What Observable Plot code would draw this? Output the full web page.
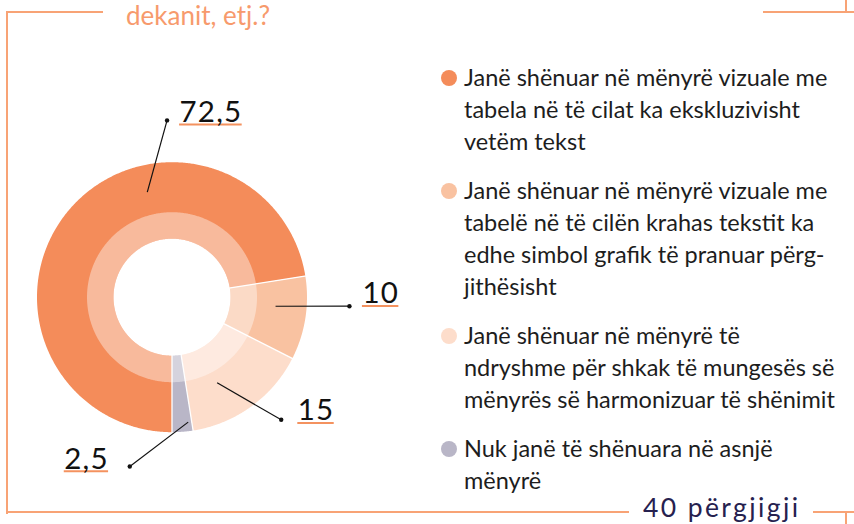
<!DOCTYPE html>
<html>
<head>
<meta charset="utf-8">
<script src="https://cdn.jsdelivr.net/npm/d3@7"></script>
<script src="https://cdn.jsdelivr.net/npm/@observablehq/plot@0.6"></script>
<style>
  html, body { margin: 0; padding: 0; background: #fff; }
  #wrap { position: relative; width: 854px; height: 524px; overflow: hidden; font-family: Lato, sans-serif; }
  .fr { position: absolute; background: #F8A375; }
  #chart { position: absolute; left: 0; top: 0; }
  #chart text { letter-spacing: 1.2px; }
  #title { position: absolute; left: 126px; top: 0px; font-size: 26px; line-height: 31px; color: #F79A6C; white-space: nowrap; }
  #count { position: absolute; left: 643px; top: 494px; font-size: 26.5px; line-height: 27px; color: #26214F; letter-spacing: 2.4px; white-space: nowrap; }
  #legend { position: absolute; left: 441px; top: 61px; display: flex; flex-direction: column; gap: 17px; }
  .item { position: relative; padding-left: 23px; font-size: 23.5px; line-height: 32px; color: #1d1d1d; white-space: pre; }
  .sw { position: absolute; left: 0; top: 9px; width: 16px; height: 16px; border-radius: 50%; }
</style>
</head>
<body>
<div id="wrap">
  <div class="fr" style="left:6px;top:11px;width:97px;height:2px"></div>
  <div class="fr" style="left:6px;top:11px;width:2px;height:503px"></div>
  <div class="fr" style="left:6px;top:511px;width:623px;height:2px"></div>
  <div class="fr" style="left:813px;top:511px;width:41px;height:2px"></div>
  <div class="fr" style="left:845px;top:511px;width:2px;height:13px"></div>
  <div class="fr" style="left:763px;top:11px;width:91px;height:2px"></div>
  <div class="fr" style="left:845px;top:0px;width:2px;height:13px"></div>
  <div id="title"></div>
  <div id="chart"></div>
  <div id="legend"></div>
  <div id="count"></div>
</div>
<script>
// ---- data ----
const categories = [
  "Janë shënuar në mënyrë vizuale me\ntabela në të cilat ka ekskluzivisht\nvetëm tekst",
  "Janë shënuar në mënyrë vizuale me\ntabelë në të cilën krahas tekstit ka\nedhe simbol grafik të pranuar përg-\njithësisht",
  "Janë shënuar në mënyrë të\nndryshme për shkak të mungesës së\nmënyrës së harmonizuar të shënimit",
  "Nuk janë të shënuara në asnjë\nmënyrë"
];
const values = [72.5, 10, 15, 2.5];
const colors = ["#F48C5A", "#F9C2A1", "#FDDDCB", "#B9B6C7"];
const titleTail = "dekanit, etj.?";
const responses = "40 përgjigji";

// ---- layout (not data) ----
const W = 420, H = 524, CX = 171.5, CY = 296.7;
const R_OUT = 135, R_MID = 85, R_IN = 58.5;
const START = 180; // degrees clockwise from 12 o'clock
// leader: t = position inside slice (0..1), r0 = inner radius factor, a1/r1 = dot angle/radius factor, label offsets
const leaders = [
  {t: 0.639, r0: 0.80, a1: -1.6, r1: 1.310, dx: 12.5, dy: -1.5, anchor: "start"},
  {t: 0.389, r0: 0.77, a1: 92.9, r1: 1.316, dx: 13.0, dy: 2.7, anchor: "start"},
  {t: 0.652, r0: 0.717, a1: 138.3, r1: 1.216, dx: 16.6, dy: -0.7, anchor: "start"},
  {t: 0.180, r0: 0.933, a1: 194, r1: 1.293, dx: -21.0, dy: -2.3, anchor: "end"}
];
const LABEL_FONT = 29.5, LS = 1.2;

const fmt = v => String(v).replace(".", ",");
const rad = a => a * Math.PI / 180;
const pol = (a, r) => ({x: r * Math.sin(rad(a)), y: r * Math.cos(rad(a))});

const total = d3.sum(values);
let acc = 0;
const slices = values.map((v, i) => {
  const a0 = START + acc / total * 360;
  acc += v;
  const a1 = START + acc / total * 360;
  return {i, v, a0, a1, color: colors[i], label: fmt(v)};
});

function ring(s, r0, r1) {
  const n = Math.max(2, Math.ceil((s.a1 - s.a0) / 0.5));
  const pts = [];
  for (let k = 0; k <= n; k++) pts.push(pol(s.a0 + (s.a1 - s.a0) * k / n, r1));
  for (let k = n; k >= 0; k--) pts.push(pol(s.a0 + (s.a1 - s.a0) * k / n, r0));
  return pts;
}

const ctx = document.createElement("canvas").getContext("2d");
ctx.font = `${LABEL_FONT}px Lato`;

const ann = slices.map((s, i) => {
  const L = leaders[i];
  const p0 = pol(s.a0 + (s.a1 - s.a0) * L.t, L.r0 * R_OUT);
  const p1 = pol(L.a1, L.r1 * R_OUT);
  const tx = p1.x + L.dx, ty = p1.y + L.dy;
  const w = ctx.measureText(s.label).width + LS * (s.label.length - 1);
  const ux1 = L.anchor === "start" ? tx - 0.5 : tx - LS - w - 0.5;
  const ux2 = L.anchor === "start" ? tx + w + 0.5 : tx - LS + 0.5;
  return {...s, x0: p0.x, y0: p0.y, x1: p1.x, y1: p1.y, tx, ty, anchor: L.anchor, ux1, ux2, uy: ty - 2.5};
});

const marks = [];
for (const s of slices) {
  marks.push(Plot.line(ring(s, R_IN, R_OUT), {x: "x", y: "y", curve: "linear-closed", fill: s.color, stroke: "none"}));
  marks.push(Plot.line(ring(s, R_IN, R_MID), {x: "x", y: "y", curve: "linear-closed", fill: "white", fillOpacity: 0.4, stroke: "none"}));
}
marks.push(Plot.link(slices, {
  x1: s => pol(s.a0, R_IN - 1).x, y1: s => pol(s.a0, R_IN - 1).y,
  x2: s => pol(s.a0, R_OUT + 1).x, y2: s => pol(s.a0, R_OUT + 1).y,
  stroke: "white", strokeWidth: 1.3
}));
marks.push(Plot.link(ann, {x1: "x0", y1: "y0", x2: "x1", y2: "y1", stroke: "#111", strokeWidth: 1.2}));
marks.push(Plot.dot(ann, {x: "x1", y: "y1", r: 2.2, fill: "#111", stroke: "none"}));
marks.push(Plot.link(ann, {x1: "ux1", x2: "ux2", y1: "uy", y2: "uy", stroke: "#F4925F", strokeWidth: 2, strokeLinecap: "butt"}));
for (const anchor of ["start", "end"]) {
  marks.push(Plot.text(ann.filter(d => d.anchor === anchor), {
    x: "tx", y: "ty", text: "label", textAnchor: anchor, lineAnchor: "bottom",
    fontSize: LABEL_FONT, fill: "#111", fontFamily: "Lato"
  }));
}

const chart = Plot.plot({
  width: W, height: H, margin: 0,
  x: {domain: [-CX, W - CX], axis: null},
  y: {domain: [CY - H, CY], axis: null},
  style: {background: "transparent", fontFamily: "Lato"},
  marks
});
document.getElementById("chart").append(chart);

document.getElementById("title").textContent = titleTail;
document.getElementById("count").textContent = responses;
const legend = document.getElementById("legend");
categories.forEach((c, i) => {
  const it = document.createElement("div");
  it.className = "item";
  const sw = document.createElement("span");
  sw.className = "sw";
  sw.style.background = colors[i];
  it.append(sw, document.createTextNode(c));
  legend.append(it);
});
</script>
</body>
</html>
